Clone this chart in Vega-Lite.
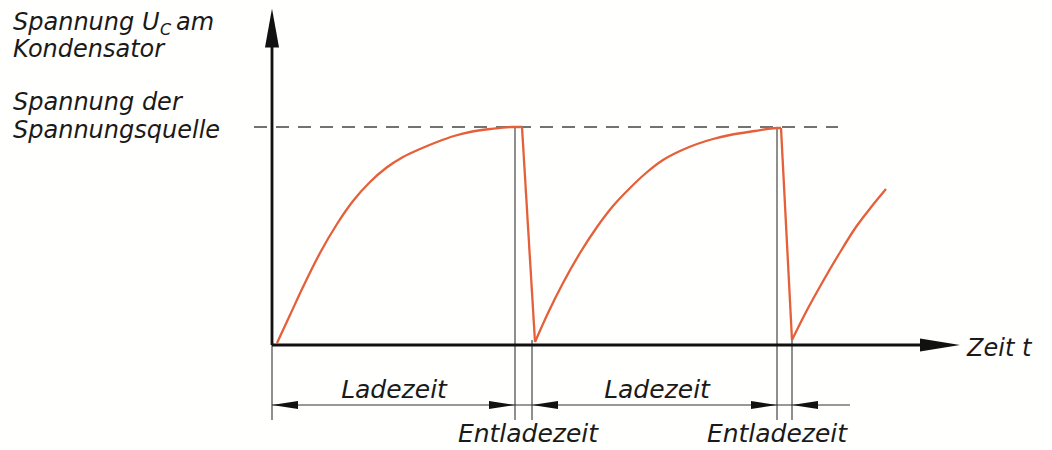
{
  "$schema": "https://vega.github.io/schema/vega-lite/v6.json",
  "width": 1052,
  "height": 450,
  "autosize": {"type": "fit", "contains": "padding"},
  "padding": 0,
  "background": "#fffffd",
  "config": {"view": {"stroke": null}},
  "datasets": {
    "curve": [
      {"seg": "charge1", "t": 5, "u": 2}, {"seg": "charge1", "t": 18, "u": 30}, {"seg": "charge1", "t": 31, "u": 58},
      {"seg": "charge1", "t": 48, "u": 92}, {"seg": "charge1", "t": 65, "u": 121}, {"seg": "charge1", "t": 81, "u": 144},
      {"seg": "charge1", "t": 98, "u": 163}, {"seg": "charge1", "t": 114, "u": 177}, {"seg": "charge1", "t": 131, "u": 188},
      {"seg": "charge1", "t": 148, "u": 196}, {"seg": "charge1", "t": 165, "u": 203}, {"seg": "charge1", "t": 182, "u": 209},
      {"seg": "charge1", "t": 198, "u": 213}, {"seg": "charge1", "t": 218, "u": 216}, {"seg": "charge1", "t": 240, "u": 218},
      {"seg": "charge1", "t": 250, "u": 218},
      {"seg": "drop1", "t": 250, "u": 218}, {"seg": "drop1", "t": 263, "u": 3},
      {"seg": "charge2", "t": 263, "u": 3}, {"seg": "charge2", "t": 276, "u": 32}, {"seg": "charge2", "t": 291, "u": 62},
      {"seg": "charge2", "t": 308, "u": 92}, {"seg": "charge2", "t": 325, "u": 118}, {"seg": "charge2", "t": 341, "u": 139},
      {"seg": "charge2", "t": 358, "u": 157}, {"seg": "charge2", "t": 374, "u": 172}, {"seg": "charge2", "t": 391, "u": 185},
      {"seg": "charge2", "t": 408, "u": 194}, {"seg": "charge2", "t": 425, "u": 201}, {"seg": "charge2", "t": 441, "u": 206},
      {"seg": "charge2", "t": 458, "u": 210}, {"seg": "charge2", "t": 483, "u": 214}, {"seg": "charge2", "t": 505, "u": 217},
      {"seg": "charge2", "t": 509, "u": 217},
      {"seg": "drop2", "t": 509, "u": 217}, {"seg": "drop2", "t": 520, "u": 5},
      {"seg": "charge3", "t": 520, "u": 5}, {"seg": "charge3", "t": 534, "u": 33}, {"seg": "charge3", "t": 550, "u": 62},
      {"seg": "charge3", "t": 567, "u": 91}, {"seg": "charge3", "t": 584, "u": 118}, {"seg": "charge3", "t": 600, "u": 139},
      {"seg": "charge3", "t": 614, "u": 156}
    ],
    "segments": [
      {"group": "axis", "t": 0, "u": 0, "t2": 0, "u2": 300},
      {"group": "axis", "t": 0, "u": 0, "t2": 650, "u2": 0},
      {"group": "ref", "t": -18, "u": 218, "t2": 566, "u2": 218},
      {"group": "ext", "t": 0, "u": 0, "t2": 0, "u2": -75},
      {"group": "ext", "t": 243, "u": 218, "t2": 243, "u2": -75},
      {"group": "ext", "t": 260, "u": 5, "t2": 260, "u2": -75},
      {"group": "ext", "t": 505, "u": 218, "t2": 505, "u2": -75},
      {"group": "ext", "t": 520, "u": 5, "t2": 520, "u2": -75},
      {"group": "ext", "t": 0, "u": -60, "t2": 578, "u2": -60}
    ],
    "arrows": [
      {"kind": "axisUp", "t": 0, "u": 317},
      {"kind": "axisRight", "t": 668, "u": 0},
      {"kind": "dimLeft", "t": 13, "u": -60},
      {"kind": "dimRight", "t": 230, "u": -60},
      {"kind": "dimLeft", "t": 273, "u": -60},
      {"kind": "dimRight", "t": 492, "u": -60},
      {"kind": "dimLeft", "t": 533, "u": -60}
    ],
    "texts": [
      {"kind": "left", "t": -259, "u": 315, "label": "Spannung U"},
      {"kind": "sub", "t": -112, "u": 310, "label": "C"},
      {"kind": "left", "t": -96, "u": 315, "label": "am"},
      {"kind": "left", "t": -259, "u": 288, "label": "Kondensator"},
      {"kind": "left", "t": -259, "u": 235, "label": "Spannung der"},
      {"kind": "left", "t": -259, "u": 207, "label": "Spannungsquelle"},
      {"kind": "left", "t": 695, "u": -11, "label": "Zeit t"},
      {"kind": "center", "t": 122, "u": -53, "label": "Ladezeit"},
      {"kind": "center", "t": 385, "u": -53, "label": "Ladezeit"},
      {"kind": "center", "t": 256, "u": -97, "label": "Entladezeit"},
      {"kind": "center", "t": 505, "u": -97, "label": "Entladezeit"}
    ]
  },
  "encoding": {
    "x": {"field": "t", "type": "quantitative", "scale": {"domain": [-272, 780], "nice": false, "zero": false}, "axis": null},
    "y": {"field": "u", "type": "quantitative", "scale": {"domain": [-105, 345], "nice": false, "zero": false}, "axis": null}
  },
  "layer": [
    {
      "data": {"name": "segments"},
      "transform": [{"filter": "datum.group === 'ref'"}],
      "mark": {"type": "rule", "color": "#444", "strokeWidth": 1.6, "strokeDash": [13, 9]},
      "encoding": {"x2": {"field": "t2"}, "y2": {"field": "u2"}}
    },
    {
      "data": {"name": "segments"},
      "transform": [{"filter": "datum.group === 'ext'"}],
      "mark": {"type": "rule", "color": "#333", "strokeWidth": 1.1},
      "encoding": {"x2": {"field": "t2"}, "y2": {"field": "u2"}}
    },
    {
      "data": {"name": "curve"},
      "transform": [{"filter": "indexof(datum.seg, 'charge') === 0"}],
      "mark": {"type": "line", "color": "#e5603a", "strokeWidth": 2.3, "strokeJoin": "round", "interpolate": "monotone"},
      "encoding": {"detail": {"field": "seg", "type": "nominal"}}
    },
    {
      "data": {"name": "curve"},
      "transform": [{"filter": "indexof(datum.seg, 'drop') === 0"}],
      "mark": {"type": "line", "color": "#e5603a", "strokeWidth": 2.3, "strokeJoin": "round"},
      "encoding": {"detail": {"field": "seg", "type": "nominal"}}
    },
    {
      "data": {"name": "segments"},
      "transform": [{"filter": "datum.group === 'axis'"}],
      "mark": {"type": "rule", "color": "#111", "strokeWidth": 2.8},
      "encoding": {"x2": {"field": "t2"}, "y2": {"field": "u2"}}
    },
    {
      "data": {"name": "arrows"},
      "transform": [{"filter": "datum.kind === 'axisUp'"}],
      "mark": {"type": "point", "filled": true, "color": "#111", "opacity": 1, "size": 1521, "shape": "M0,-1L0.36,1L-0.36,1Z"}
    },
    {
      "data": {"name": "arrows"},
      "transform": [{"filter": "datum.kind === 'axisRight'"}],
      "mark": {"type": "point", "filled": true, "color": "#111", "opacity": 1, "size": 1600, "shape": "M1,0L-1,0.33L-1,-0.33Z"}
    },
    {
      "data": {"name": "arrows"},
      "transform": [{"filter": "datum.kind === 'dimRight'"}],
      "mark": {"type": "point", "filled": true, "color": "#111", "opacity": 1, "size": 676, "shape": "M1,0L-1,0.3L-1,-0.3Z"}
    },
    {
      "data": {"name": "arrows"},
      "transform": [{"filter": "datum.kind === 'dimLeft'"}],
      "mark": {"type": "point", "filled": true, "color": "#111", "opacity": 1, "size": 676, "shape": "M-1,0L1,0.3L1,-0.3Z"}
    },
    {
      "data": {"name": "texts"},
      "transform": [{"filter": "datum.kind === 'left'"}],
      "mark": {"type": "text", "align": "left", "baseline": "alphabetic", "font": "DejaVu Sans", "fontStyle": "italic", "fontSize": 24, "color": "#1a1a1a"},
      "encoding": {"text": {"field": "label"}}
    },
    {
      "data": {"name": "texts"},
      "transform": [{"filter": "datum.kind === 'sub'"}],
      "mark": {"type": "text", "align": "left", "baseline": "alphabetic", "font": "DejaVu Sans", "fontStyle": "italic", "fontSize": 16, "color": "#1a1a1a"},
      "encoding": {"text": {"field": "label"}}
    },
    {
      "data": {"name": "texts"},
      "transform": [{"filter": "datum.kind === 'center'"}],
      "mark": {"type": "text", "align": "center", "baseline": "alphabetic", "font": "DejaVu Sans", "fontStyle": "italic", "fontSize": 25, "color": "#1a1a1a"},
      "encoding": {"text": {"field": "label"}}
    }
  ]
}
